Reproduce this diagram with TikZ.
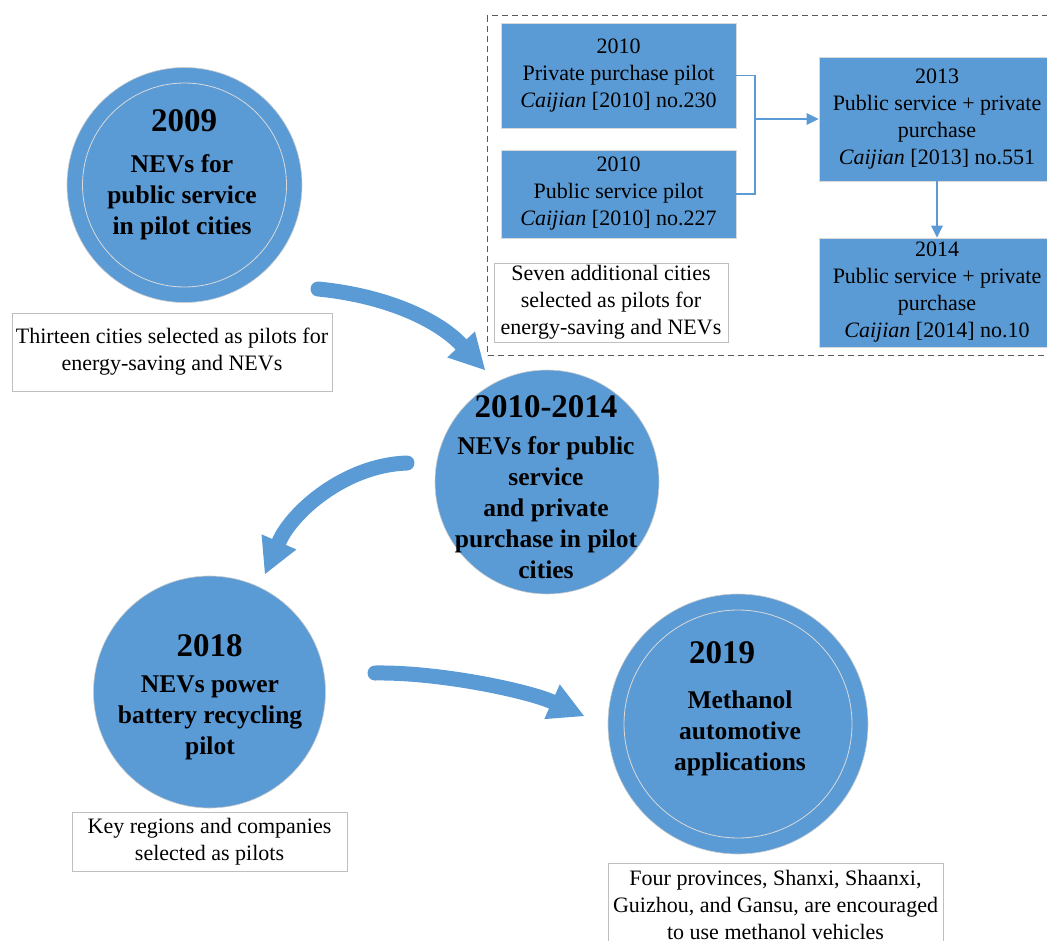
\documentclass[tikz,border=0pt]{standalone}
\usepackage{fontspec}
\setmainfont{Liberation Serif}
\usetikzlibrary{arrows.meta}

\definecolor{nevblue}{HTML}{5B9BD5}
\definecolor{boxgray}{HTML}{BFBFBF}

\tikzset{
  stage/.style={circle, fill=nevblue, draw=black!20, line width=0.6pt, inner sep=0pt},
  ring/.style={circle, draw=white!85!black, line width=0.8pt, inner sep=0pt},
  yeartext/.style={font=\bfseries\fontsize{33}{36}\selectfont, inner sep=0pt},
  stagetext/.style={font=\bfseries\fontsize{25.5}{31}\selectfont, align=center, inner sep=0pt},
  notebox/.style={draw=boxgray, line width=1pt, fill=white, align=center,
    font=\fontsize{22}{27}\selectfont, inner sep=2pt},
  docbox/.style={draw=black!15, fill=nevblue, line width=0.8pt, align=center,
    font=\fontsize{22}{27}\selectfont, inner sep=2pt, minimum width=235pt},
  grpbox/.style={draw=black!65, line width=1pt, dash pattern=on 6pt off 4pt},
  link/.style={draw=nevblue, line width=1.8pt},
  linkarrow/.style={link, -{Triangle[length=12pt,width=12pt,line width=0pt]}},
  bigarrow/.style={draw=nevblue, line width=15pt, line cap=round,
    -{Triangle[length=35pt,width=38pt,line width=0pt]}}
}

\begin{document}
\begin{tikzpicture}[x=1pt,y=-1pt]
  \useasboundingbox (0,0) rectangle (1047,940);
  \clip (0,0) rectangle (1047,940);

  % pilot stages
  \node[stage, minimum size=235pt] (c2009) at (184.5,185) {};
  \node[ring, minimum size=204pt] (r2009) at (c2009) {};
  \node[yeartext] (y2009) at (184,121) {2009};
  \node[stagetext] (t2009) at (182,197) {NEVs for\\public service\\in pilot cities};

  \node[stage, minimum size=224pt] (c1014) at (547,482) {};
  \node[yeartext] (y1014) at (546,407) {2010-2014};
  \node[stagetext] (t1014) at (546,508) {NEVs for public\\service\\and private\\purchase in pilot\\cities};

  \node[stage, minimum size=232pt] (c2018) at (209.5,692) {};
  \node[yeartext] (y2018) at (209.5,646) {2018};
  \node[stagetext] (t2018) at (210,718) {NEVs power\\battery recycling\\pilot};

  \node[stage, minimum size=260pt] (c2019) at (738,724) {};
  \node[ring, minimum size=228pt] (r2019) at (c2019) {};
  \node[yeartext] (y2019) at (722,653) {2019};
  \node[stagetext] (t2019) at (740,733) {Methanol\\automotive\\applications};

  % notes
  \node[notebox, minimum width=320pt, minimum height=78pt] (n2009) at (172,352)
    {Thirteen cities selected as pilots for\\energy-saving and NEVs};
  \node[notebox, minimum width=275pt, minimum height=59pt] (n2018) at (209.5,841.5)
    {Key regions and companies\\selected as pilots};
  \node[notebox, minimum width=335pt, minimum height=84pt] (n2019) at (775.5,905)
    {Four provinces, Shanxi, Shaanxi,\\Guizhou, and Gansu, are encouraged\\to use methanol vehicles};

  % documents 2010-2014
  \node[grpbox, anchor=north west, minimum width=580pt, minimum height=340pt] (grp) at (487,15) {};
  \node[docbox, minimum height=105pt] (d230) at (618.5,75.5)
    {2010\\Private purchase pilot\\\textit{Caijian} [2010] no.230};
  \node[docbox, minimum height=88pt] (d227) at (618.5,194)
    {2010\\Public service pilot\\\textit{Caijian} [2010] no.227};
  \node[docbox, minimum width=236pt, minimum height=124pt] (d551) at (937,119)
    {2013\\Public service + private\\purchase\\\textit{Caijian} [2013] no.551};
  \node[docbox, minimum width=236pt, minimum height=109pt] (d10) at (937,292.5)
    {2014\\Public service + private\\purchase\\\textit{Caijian} [2014] no.10};
  \node[notebox, minimum width=234pt, minimum height=79pt] (n2010) at (611,302.5)
    {Seven additional cities\\selected as pilots for\\energy-saving and NEVs};

  \coordinate (jn) at (755,119);
  \draw[link] (d230.east) -| (jn) |- (d227.east);
  \draw[linkarrow] (jn) -- (d551.west);
  \draw[linkarrow] (d551.south) -- (d10.north);

  % big arrows between stages
  \coordinate (a1s) at (318,289);
  \coordinate (a1e) at (485,370);
  \coordinate (a2s) at (407,463);
  \coordinate (a2e) at (265,574);
  \coordinate (a3s) at (375,673);
  \coordinate (a3e) at (584,716);
  \draw[bigarrow] (a1s) .. controls (390,296) and (440,322) .. (a1e);
  \draw[bigarrow] (a2s) .. controls (345,465) and (292,512) .. (a2e);
  \draw[bigarrow] (a3s) .. controls (440,672) and (528,691) .. (a3e);
\end{tikzpicture}
\end{document}
